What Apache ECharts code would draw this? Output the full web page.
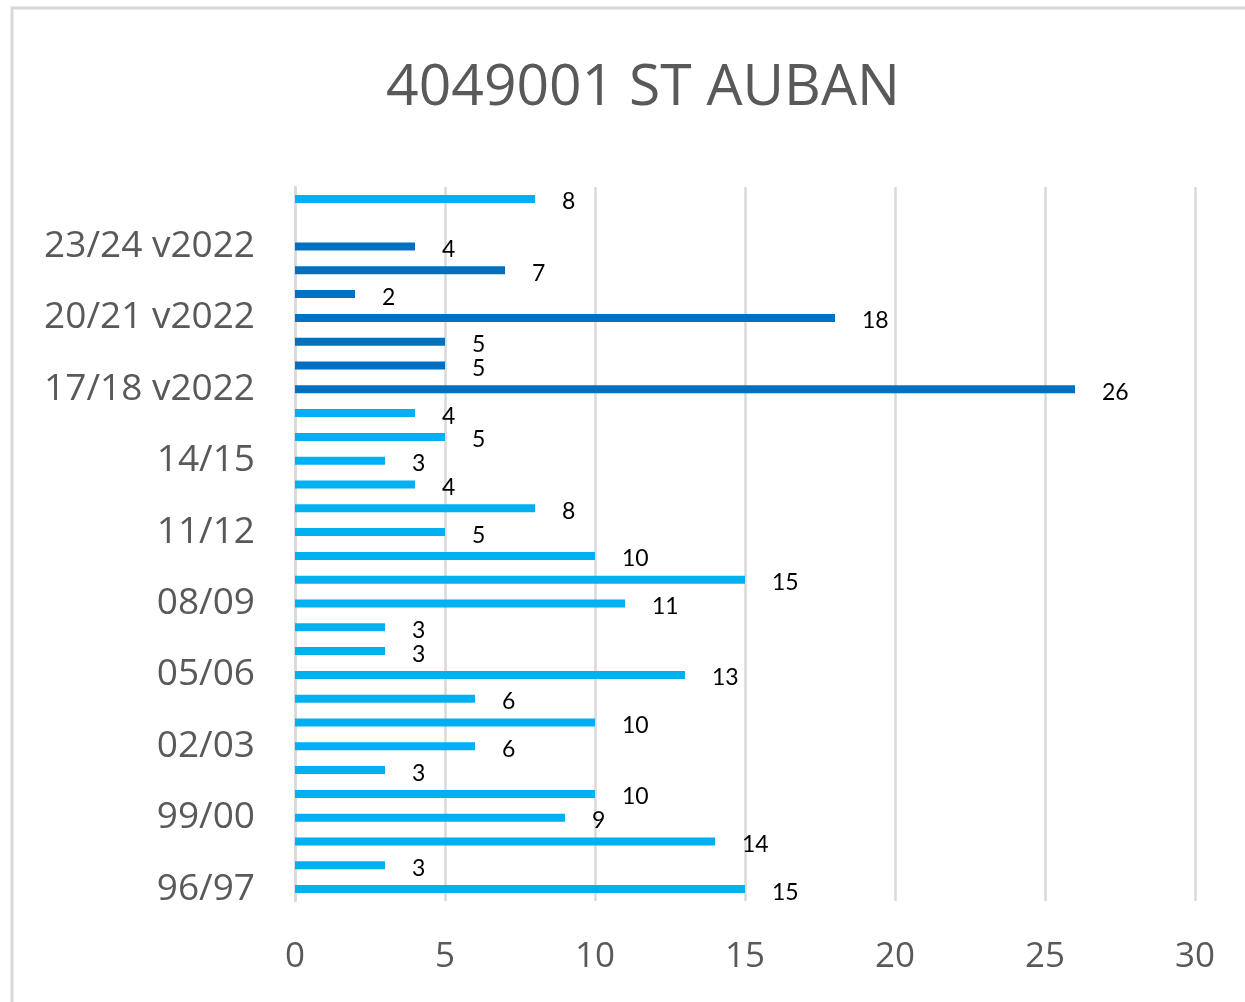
<!DOCTYPE html>
<html>
<head>
<meta charset="utf-8">
<script src="https://cdn.jsdelivr.net/npm/echarts@6/dist/echarts.min.js"></script>
<style>
  html, body { margin: 0; padding: 0; background: #fff; }
  #main { width: 1245px; height: 1002px; }
</style>
</head>
<body>
<div id="main"></div>
<script>
// saisons (de bas en haut)
var saisons = ['96/97', '97/98', '98/99', '99/00', '00/01', '01/02', '02/03', '03/04',
  '04/05', '05/06', '06/07', '07/08', '08/09', '09/10', '10/11', '11/12', '12/13',
  '13/14', '14/15', '15/16', '16/17', '17/18 v2022', '18/19 v2022', '19/20 v2022',
  '20/21 v2022', '21/22 v2022', '22/23 v2022', '23/24 v2022', '24/25 v2022', 'Moyenne']

// valeurs
var valeurs = [15, 3, 14, 9, 10, 3, 6, 10, 6, 13, 3, 3, 11, 15, 10, 5, 8, 4, 3, 5, 4,
  26, 5, 5, 18, 2, 7, 4, null, 8]

// v2022 en bleu foncé
var v2022 = [false, false, false, false, false, false, false, false, false, false, false,
  false, false, false, false, false, false, false, false, false, false,
  true, true, true, true, true, true, true, true, false]

var xTicks = [0, 5, 10, 15, 20, 25, 30]

var chart = echarts.init(document.getElementById('main'))

var data = valeurs.map(function (v, i) {
  return {
    value: v,
    itemStyle: { color: v2022[i] ? '#0070C0' : '#00B0F0' }
  }
})

var option = {
  backgroundColor: '#fff',
  animation: false,
  title: {
    text: '4049001 ST AUBAN',
    left: 638,
    textAlign: 'center',
    top: 55,
    textStyle: {
      fontFamily: 'Open Sans',
      fontSize: 57,
      fontWeight: 'normal',
      color: '#595959'
    }
  },
  graphic: [{
    type: 'rect',
    shape: { x: 12, y: 8, width: 1260, height: 1020 },
    style: { fill: 'none', stroke: '#d9d9d9', lineWidth: 3 }
  }],
  grid: {
    left: 295,
    right: 50,
    top: 187,
    bottom: 101
  },
  xAxis: {
    type: 'value',
    min: xTicks[0],
    max: xTicks[xTicks.length - 1],
    interval: 5,
    axisLine: { show: false },
    axisTick: { show: false },
    axisLabel: {
      margin: 39,
      fontFamily: 'Open Sans',
      fontSize: 35,
      color: '#595959'
    },
    splitLine: { lineStyle: { color: '#d9d9d9', width: 2.5 } }
  },
  yAxis: {
    type: 'category',
    data: saisons,
    axisLine: { lineStyle: { color: '#d9d9d9', width: 2.5 } },
    axisTick: { show: false },
    axisLabel: {
      interval: 2,
      margin: 40,
      fontFamily: 'Open Sans',
      fontSize: 37,
      color: '#595959'
    }
  },
  series: [{
    type: 'bar',
    data: data,
    barWidth: 8,
    label: {
      show: true,
      position: 'right',
      distance: 27,
      fontFamily: 'Lato',
      fontSize: 23,
      color: '#000',
      offset: [0, 3]
    }
  }]
}

chart.setOption(option)
</script>
</body>
</html>
